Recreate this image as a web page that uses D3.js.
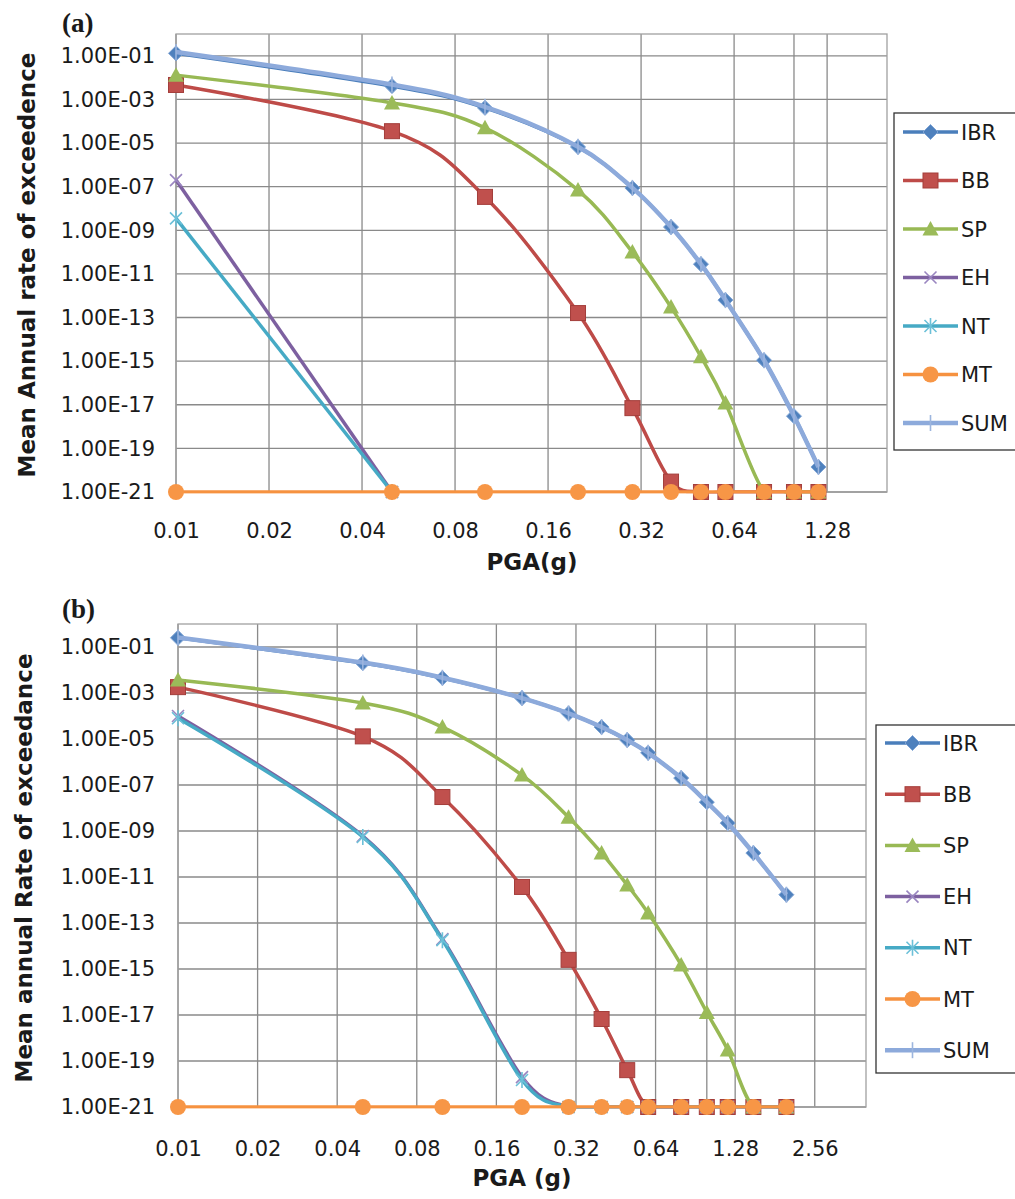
<!DOCTYPE html>
<html>
<head>
<meta charset="utf-8">
<script src="https://cdn.jsdelivr.net/npm/d3@7"></script>
<style>
  html, body { margin: 0; padding: 0; background: #fff; }
  svg { display: block; }
</style>
</head>
<body>
<svg id="chart" width="1015" height="1199"></svg>
<script>
// Seismic source zones, in drawing order
const sources = ["IBR", "BB", "SP", "EH", "NT", "MT", "SUM"];
const sourceColors = ["#4A7EBB", "#BE4B48", "#98B954", "#7D60A0", "#46AAC5", "#F69240", "#8DAADB"];

// Rate tick labels (shared) and PGA tick labels for each panel
const rateTicks = [1e-1, 1e-3, 1e-5, 1e-7, 1e-9, 1e-11, 1e-13, 1e-15, 1e-17, 1e-19, 1e-21];
const pgaTicksA = [0.01, 0.02, 0.04, 0.08, 0.16, 0.32, 0.64, 1.28];
const pgaTicksB = [0.01, 0.02, 0.04, 0.08, 0.16, 0.32, 0.64, 1.28, 2.56];
const pgaGridA = [0.01, 0.02, 0.04, 0.08, 0.16, 0.32, 0.64, 1.0, 1.28];
const pgaGridB = [0.01, 0.02, 0.04, 0.08, 0.16, 0.32, 0.64, 1.0, 1.28, 2.56];

// Panel (a): PGA levels (g) and mean annual rate of exceedence per source
const pgaA = [0.01, 0.05, 0.1, 0.2, 0.3, 0.4, 0.5, 0.6, 0.8, 1.0, 1.2];
const ibrA = [1.3e-1, 4.1e-3, 4.1e-4, 6.6e-6, 8.7e-8, 1.4e-9, 2.8e-11, 6.3e-13, 1.1e-15, 3.0e-18, 1.4e-20];
const bbA  = [4.6e-3, 3.5e-5, 3.4e-8, 1.6e-13, 7.0e-18, 3.0e-21, 1e-21, 1e-21, 1e-21, 1e-21, 1e-21];
const spA  = [1.3e-2, 6.9e-4, 5.0e-5, 7.0e-8, 1.0e-10, 3.0e-13, 1.6e-15, 1.2e-17, 1e-21, 1e-21, 1e-21];
const ehA  = [2.0e-7, 1e-21, null, null, null, null, null, null, null, null, null];
const ntA  = [3.5e-9, 1e-21, null, null, null, null, null, null, null, null, null];
const mtA  = [1e-21, 1e-21, 1e-21, 1e-21, 1e-21, 1e-21, 1e-21, 1e-21, 1e-21, 1e-21, 1e-21];
const sumA = [1.5e-1, 4.8e-3, 4.6e-4, 6.7e-6, 8.8e-8, 1.4e-9, 2.8e-11, 6.3e-13, 1.1e-15, 3.0e-18, 1.4e-20];

// Panel (b): PGA levels (g) and mean annual rate of exceedance per source
const pgaB = [0.01, 0.05, 0.1, 0.2, 0.3, 0.4, 0.5, 0.6, 0.8, 1.0, 1.2, 1.5, 2.0];
const ibrB = [2.5e-1, 2.0e-2, 4.5e-3, 6.0e-4, 1.3e-4, 3.3e-5, 9.0e-6, 2.5e-6, 2.0e-7, 1.8e-8, 2.2e-9, 1.1e-10, 1.7e-12];
const bbB  = [1.8e-3, 1.3e-5, 3.0e-8, 3.7e-12, 2.5e-15, 6.7e-18, 4.0e-20, 1e-21, 1e-21, 1e-21, 1e-21, 1e-21, 1e-21];
const spB  = [3.7e-3, 3.7e-4, 3.3e-5, 2.7e-7, 4.0e-9, 1.1e-10, 4.5e-12, 2.7e-13, 1.5e-15, 1.3e-17, 3.0e-19, 1e-21, 1e-21];
const ehB  = [1.0e-4, 6.0e-10, 2.0e-14, 2.0e-20, 1e-21, 1e-21, 1e-21, 1e-21, 1e-21, 1e-21, 1e-21, 1e-21, 1e-21];
const ntB  = [8.0e-5, 5.5e-10, 1.8e-14, 1.5e-20, 1e-21, 1e-21, 1e-21, 1e-21, 1e-21, 1e-21, 1e-21, 1e-21, 1e-21];
const mtB  = [1e-21, 1e-21, 1e-21, 1e-21, 1e-21, 1e-21, 1e-21, 1e-21, 1e-21, 1e-21, 1e-21, 1e-21, 1e-21];
const sumB = [2.6e-1, 2.1e-2, 4.6e-3, 6.0e-4, 1.3e-4, 3.3e-5, 9.0e-6, 2.5e-6, 2.0e-7, 1.8e-8, 2.2e-9, 1.1e-10, 1.7e-12];

const svg = d3.select("#chart");
const SANS = "'DejaVu Sans', sans-serif";

function sciLabel(v) {
  const e = Math.round(Math.log10(v));
  return "1.00E" + (e < 0 ? "-" : "+") + String(Math.abs(e)).padStart(2, "0");
}

// Marker shapes per source, centred at origin
function drawMarker(g, name) {
  if (name === "IBR") {
    g.append("path").attr("d", "M0,-7.5L7.5,0L0,7.5L-7.5,0Z")
      .attr("fill", "#4F81BD").attr("stroke", "#7EA3D4").attr("stroke-width", 1);
  } else if (name === "BB") {
    g.append("rect").attr("x", -7.5).attr("y", -7.5).attr("width", 15).attr("height", 15)
      .attr("fill", "#C0504D").attr("stroke", "#A33E3B").attr("stroke-width", 1);
  } else if (name === "SP") {
    g.append("path").attr("d", "M0,-8L8,6.5L-8,6.5Z").attr("fill", "#9BBB59");
  } else if (name === "EH") {
    g.append("path").attr("d", "M-6,-6L6,6M-6,6L6,-6")
      .attr("stroke", "#9A86C0").attr("stroke-width", 1.6).attr("fill", "none");
  } else if (name === "NT") {
    g.append("path").attr("d", "M-6,-6L6,6M-6,6L6,-6M0,-8L0,8")
      .attr("stroke", "#6CC0D8").attr("stroke-width", 1.6).attr("fill", "none");
  } else if (name === "MT") {
    g.append("circle").attr("r", 8).attr("fill", "#F79646");
  } else if (name === "SUM") {
    g.append("path").attr("d", "M0,-8L0,8")
      .attr("stroke", "#9CB5DE").attr("stroke-width", 1.6).attr("fill", "none");
  }
}

function drawPanel(cfg) {
  const x = d3.scaleLog().base(2).domain(cfg.xDomain).range([cfg.left, cfg.right]);
  const y = d3.scaleLog().domain([1e-21, 1]).range([cfg.bottom, cfg.top]);
  const g = svg.append("g");

  // Gridlines
  g.append("g").selectAll("line").data(rateTicks).join("line")
    .attr("x1", cfg.left).attr("x2", cfg.right)
    .attr("y1", d => y(d)).attr("y2", d => y(d))
    .attr("stroke", "#8a8a8a").attr("stroke-width", 1.3);
  g.append("g").selectAll("line").data(cfg.grid).join("line")
    .attr("x1", d => x(d)).attr("x2", d => x(d))
    .attr("y1", cfg.top).attr("y2", cfg.bottom)
    .attr("stroke", "#8a8a8a").attr("stroke-width", 1.3);
  g.append("rect")
    .attr("x", cfg.left).attr("y", cfg.top)
    .attr("width", cfg.right - cfg.left).attr("height", cfg.bottom - cfg.top)
    .attr("fill", "none").attr("stroke", "#a0a0a0").attr("stroke-width", 1.3);

  // Axes: labels only, lines come from the grid
  const yAxis = d3.axisLeft(y).tickValues(rateTicks).tickFormat(sciLabel).tickSize(0).tickPadding(0);
  const ya = g.append("g").attr("transform", `translate(${cfg.yLabelX},0)`).call(yAxis);
  ya.select(".domain").remove();
  ya.selectAll("text").style("font-size", "21px").style("font-family", SANS).attr("fill", "#1a1a1a");

  const xAxis = d3.axisBottom(x).tickValues(cfg.ticks).tickFormat(d => String(d)).tickSize(0).tickPadding(0);
  const xa = g.append("g").attr("transform", `translate(0,${cfg.xLabelY})`).call(xAxis);
  xa.select(".domain").remove();
  xa.selectAll("text").attr("dy", null).style("font-size", "21px").style("font-family", SANS)
    .attr("fill", "#1a1a1a");

  // Titles
  g.append("text").attr("x", cfg.xTitle[0]).attr("y", cfg.xTitle[1])
    .attr("text-anchor", "middle").style("font-family", SANS)
    .style("font-size", "23px").style("font-weight", "bold").attr("fill", "#1a1a1a")
    .text(cfg.xTitleText);
  g.append("text")
    .attr("transform", `translate(${cfg.yTitle[0]},${cfg.yTitle[1]}) rotate(-90)`)
    .attr("text-anchor", "middle").style("font-family", SANS)
    .style("font-size", "23px").style("font-weight", "bold").attr("fill", "#1a1a1a")
    .text(cfg.yTitleText);
  g.append("text").attr("x", cfg.tag[0]).attr("y", cfg.tag[1])
    .style("font-family", "'Liberation Serif', 'Times New Roman', serif")
    .style("font-weight", "bold").style("font-size", "27px").attr("fill", "#1a1a1a")
    .text(cfg.tagText);

  // Series: lines clipped just below the floor, markers left unclipped
  const clipId = "clip" + cfg.tagText.replace(/\W/g, "");
  svg.append("clipPath").attr("id", clipId).append("rect")
    .attr("x", cfg.left - 12).attr("y", cfg.top - 12)
    .attr("width", cfg.right - cfg.left + 24).attr("height", cfg.bottom - cfg.top + 13.5);
  const plot = g.append("g");
  const line = d3.line()
    .defined(d => d[1] != null)
    .curve(d3.curveCatmullRom.alpha(0))
    .x(d => x(d[0])).y(d => y(d[1]));
  const widths = { IBR: 3.5, BB: 3.5, SP: 3.5, EH: 3.5, NT: 3.5, MT: 3.5, SUM: 4.5 };

  sources.forEach((name, i) => {
    const vals = cfg.values[i];
    const pts = cfg.pga.map((p, k) => [p, vals[k]]);
    const sg = plot.append("g");
    sg.append("path").attr("d", line(pts)).attr("fill", "none")
      .attr("clip-path", `url(#${clipId})`)
      .attr("stroke", sourceColors[i]).attr("stroke-width", widths[name])
      .attr("stroke-linejoin", "round");
    pts.filter(p => p[1] != null).forEach(p => {
      const m = sg.append("g").attr("transform", `translate(${x(p[0])},${y(p[1])})`);
      drawMarker(m, name);
    });
  });

  // Legend
  const lg = g.append("g");
  lg.append("rect").attr("x", cfg.legend.x).attr("y", cfg.legend.y)
    .attr("width", 200).attr("height", cfg.legend.h)
    .attr("fill", "#fff").attr("stroke", "#333").attr("stroke-width", 1.3);
  sources.forEach((name, i) => {
    const yy = cfg.legend.first + i * cfg.legend.step;
    const x0 = cfg.legend.x + 9, x1 = x0 + 55;
    lg.append("line").attr("x1", x0).attr("x2", x1).attr("y1", yy).attr("y2", yy)
      .attr("stroke", sourceColors[i]).attr("stroke-width", widths[name]);
    const m = lg.append("g").attr("transform", `translate(${(x0 + x1) / 2},${yy})`);
    drawMarker(m, name);
    lg.append("text").attr("x", x1 + 3).attr("y", yy).attr("dy", "0.36em")
      .style("font-family", SANS).style("font-size", "21px").attr("fill", "#1a1a1a")
      .text(name);
  });
}

drawPanel({
  tagText: "(a)", tag: [62, 32],
  left: 176, right: 887, top: 34, bottom: 492,
  xDomain: [0.01, 2.0], ticks: pgaTicksA, grid: pgaGridA,
  yLabelX: 155, xLabelY: 538,
  xTitle: [532, 570], xTitleText: "PGA(g)",
  yTitle: [35, 265], yTitleText: "Mean Annual rate of exceedence",
  pga: pgaA, values: [ibrA, bbA, spA, ehA, ntA, mtA, sumA],
  legend: { x: 894, y: 113, h: 337, first: 132, step: 48.5 }
});

drawPanel({
  tagText: "(b)", tag: [62, 618],
  left: 178, right: 866, top: 624, bottom: 1107,
  xDomain: [0.01, 4.0], ticks: pgaTicksB, grid: pgaGridB,
  yLabelX: 155, xLabelY: 1156,
  xTitle: [522, 1186], xTitleText: "PGA (g)",
  yTitle: [32, 868], yTitleText: "Mean annual Rate of exceedance",
  pga: pgaB, values: [ibrB, bbB, spB, ehB, ntB, mtB, sumB],
  legend: { x: 876, y: 725, h: 348, first: 743, step: 51.2 }
});
</script>
</body>
</html>
